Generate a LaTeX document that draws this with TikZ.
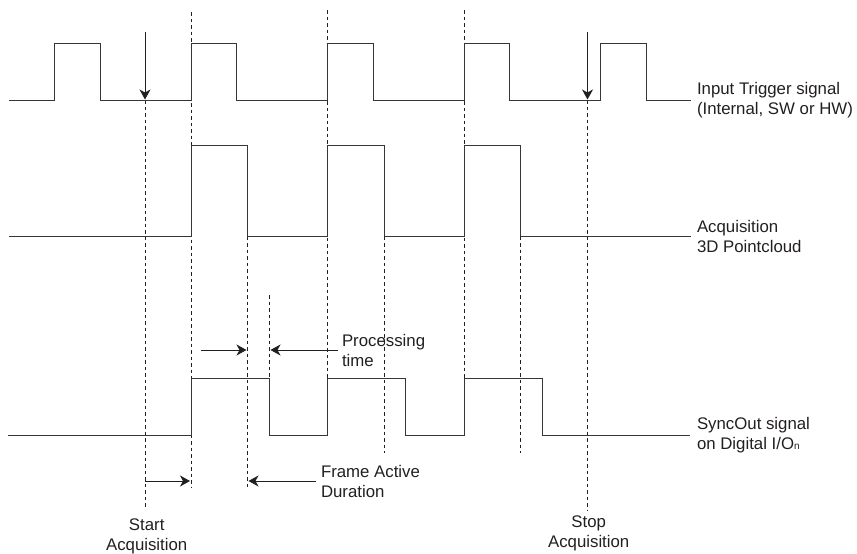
\documentclass[tikz,border=0pt]{standalone}
\usepackage{fontspec}
\setmainfont{Liberation Sans}
\usetikzlibrary{arrows.meta}
\definecolor{ink}{HTML}{231F20}
\tikzset{
  sig/.style={draw=ink!90!white,line width=1pt,line join=miter},
  guide/.style={draw=ink,line width=0.8pt,dash pattern=on 3.5pt off 3pt},
  pointer/.style={draw=ink,line width=0.9pt,-{Stealth[length=10pt,width=11pt,inset=3pt]},shorten >=0.5pt},
  lbl/.style={inner sep=0pt,outer sep=0pt,text=ink,font=\fontsize{16.8}{20}\selectfont,align=left},
  lblc/.style={lbl,align=center}
}
\begin{document}
\begin{tikzpicture}[x=1pt,y=-1pt]
\useasboundingbox (0,0) rectangle (857,554);
% anchors of the connectors
\coordinate (t1) at (145,32);  \coordinate (t1e) at (145,100); \coordinate (t1b) at (145,509);
\coordinate (t2) at (587.5,32);\coordinate (t2e) at (587.5,100);\coordinate (t2b) at (587.5,510);
\coordinate (a1) at (191,12);  \coordinate (a1b) at (191,487);
\coordinate (a2) at (327.5,10);\coordinate (a2b) at (327.5,395);
\coordinate (a3) at (464,10);  \coordinate (a3b) at (464,395);
\coordinate (f1) at (247.5,145.5);\coordinate (f1b) at (247.5,487);
\coordinate (f2) at (384,145.5);  \coordinate (f2b) at (384,453);
\coordinate (f3) at (520.5,145.5);\coordinate (f3b) at (520.5,453);
\coordinate (p1) at (269,295); \coordinate (p1b) at (269,378.7);
\coordinate (m1) at (201,350); \coordinate (m1e) at (247,350);
\coordinate (m2) at (338,350); \coordinate (m2e) at (270,350);
\coordinate (s1) at (145,481); \coordinate (s1e) at (190.5,481);
\coordinate (s2) at (315.5,481);\coordinate (s2e) at (248,481);
% dashed guides
\draw[guide] (t1e) -- (t1b);
\draw[guide] (t2e) -- (t2b);
\draw[guide] (a1) -- (a1b);
\draw[guide] (a2) -- (a2b);
\draw[guide] (a3) -- (a3b);
\draw[guide] (f1) -- (f1b);
\draw[guide] (f2) -- (f2b);
\draw[guide] (f3) -- (f3b);
\draw[guide] (p1) -- (p1b);
% signals
\draw[sig] (9,100) -| (54.5,43) -| (100,100) -| (191,43) -| (236.5,100) -| (327.5,43) -| (373,100) -| (464,43) -| (509.5,100) -| (600.5,43) -| (646,100) -- (691,100);
\draw[sig] (9,236.5) -| (191,145.5) -| (247.5,236.5) -| (327.5,145.5) -| (384,236.5) -| (464,145.5) -| (520.5,236.5) -- (691,236.5);
\draw[sig] (8,435.3) -| (191,378.7) -| (269,435.3) -| (327.5,378.7) -| (405.5,435.3) -| (464,378.7) -| (542,435.3) -- (690,435.3);
% pointers
\draw[pointer] (t1) -- (t1e);
\draw[pointer] (t2) -- (t2e);
\draw[pointer] (m1) -- (m1e);
\draw[pointer] (m2) -- (m2e);
\draw[pointer] (s1) -- (s1e);
\draw[pointer] (s2) -- (s2e);
% labels
\node[lbl,anchor=west] (lt) at (697,100) {Input Trigger signal\\(Internal, SW or HW)};
\node[lbl,anchor=west] (la) at (697,236) {Acquisition\\3D Pointcloud};
\node[lbl,anchor=west] (ls) at (697,435) {SyncOut signal\\on Digital I/O{\fontsize{10}{10}\selectfont n}};
\node[lbl,anchor=west] (lp) at (342,350) {Processing\\time};
\node[lbl,anchor=west] (lf) at (321,481) {Frame Active\\Duration};
\node[lblc,anchor=center] (ls1) at (146.7,536) {Start\\Acquisition};
\node[lblc,anchor=center] (ls2) at (588.7,533) {Stop\\Acquisition};
\end{tikzpicture}
\end{document}
